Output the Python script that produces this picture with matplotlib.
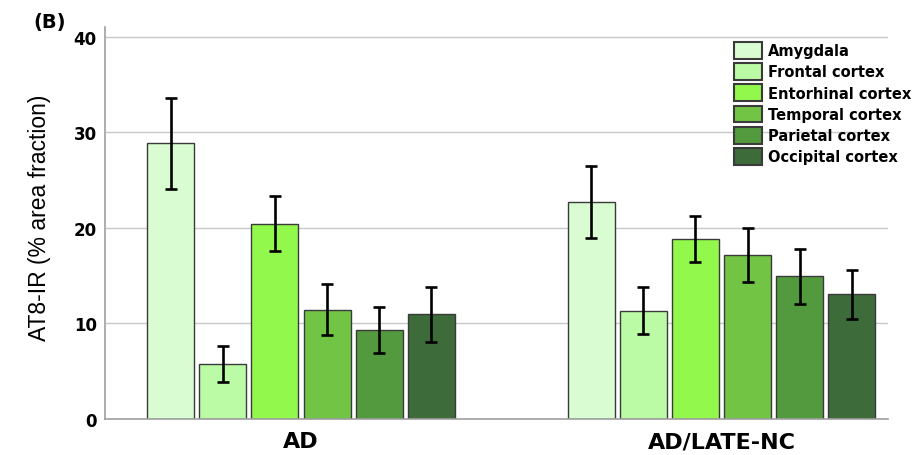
import matplotlib.pyplot as plt
import numpy as np

# data
groups = ["AD", "AD/LATE-NC"]
regions = ["Amygdala", "Frontal cortex", "Entorhinal cortex",
           "Temporal cortex", "Parietal cortex", "Occipital cortex"]
means_ad = [28.8, 5.7, 20.4, 11.4, 9.3, 10.9]
err_ad = [4.8, 1.9, 2.9, 2.7, 2.4, 2.85]
means_late = [22.7, 11.3, 18.8, 17.1, 14.9, 13.0]
err_late = [3.75, 2.5, 2.4, 2.8, 2.9, 2.6]
yticks = [0, 10, 20, 30, 40]

colors = ["#dafcd2", "#bbfba5", "#92f84c", "#72c444", "#539a3e", "#3d6b3a"]

plt.rcParams['font.family'] = ['DejaVu Sans']

fig = plt.figure(figsize=(9.19, 4.56), dpi=100)
ax = fig.add_axes([0.1143, 0.080, 0.852, 0.8586])

x = np.arange(len(groups))
step = 0.124
width = 0.112

for i, name in enumerate(regions):
    vals = [means_ad[i], means_late[i]]
    errs = [err_ad[i], err_late[i]]
    ax.bar(x + (i - 2.5) * step, vals, width, color=colors[i],
           edgecolor="#3a3a3a", linewidth=1, label=name, zorder=2)
    ax.errorbar(x + (i - 2.5) * step, vals, yerr=errs, fmt="none",
                ecolor="black", elinewidth=1.9, capsize=4.5, capthick=1.9, zorder=3)

ax.set_xlim(-0.466, 1.396)
ax.set_ylim(0, 41)
ax.set_yticks(yticks)
ax.set_xticks(x)
ax.set_xticklabels(groups, fontsize=16, fontweight="bold")
for lab in ax.get_yticklabels():
    lab.set_fontsize(12)
    lab.set_fontweight("bold")
ax.tick_params(axis="y", length=0, pad=6)
ax.tick_params(axis="x", length=0, pad=9)

ax.grid(axis="y", color="#c8c8c8", linewidth=1, zorder=0)
ax.set_axisbelow(True)
for s in ["top", "right"]:
    ax.spines[s].set_visible(False)
for s in ["left", "bottom"]:
    ax.spines[s].set_color("#a0a0a0")
    ax.spines[s].set_linewidth(1.2)

fig.text(0.043, 0.522, "AT8-IR (% area fraction)", rotation=90,
         fontsize=16.5, family="Liberation Sans", ha="center", va="center")
fig.text(0.036, 0.972, "(B)", fontsize=14, fontweight="bold", ha="left", va="top")

leg = ax.legend(loc="upper left", bbox_to_anchor=(0.799, 0.906),
                bbox_transform=fig.transFigure, frameon=False,
                prop={"weight": "bold", "size": 10.5}, borderpad=0, borderaxespad=0,
                handlelength=1.9, handleheight=1.4, handletextpad=0.4, labelspacing=0.3)
for h in leg.legend_handles:
    h.set_linewidth(1.5)

fig.savefig("out.png", dpi=100)
